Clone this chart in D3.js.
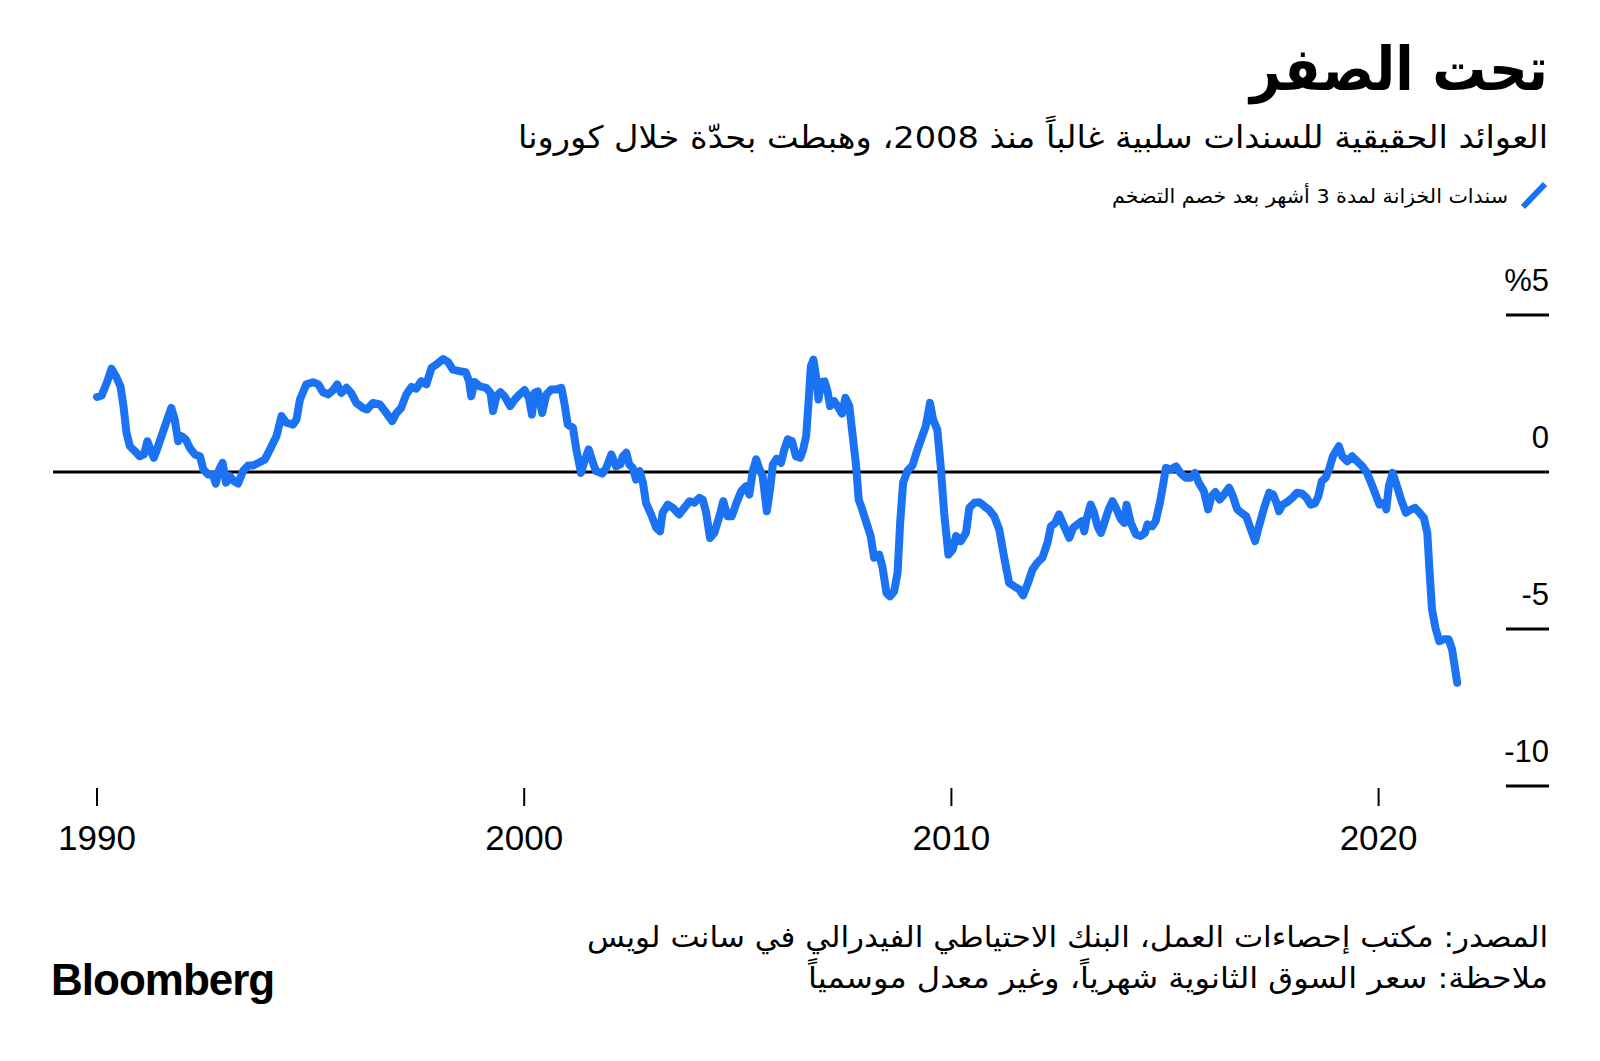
<!DOCTYPE html>
<html>
<head>
<meta charset="utf-8">
<script src="https://cdn.jsdelivr.net/npm/d3@7"></script>
<style>
  body { margin: 0; background: #fff; }
  .ar { font-family: "DejaVu Sans", sans-serif; }
  .num { font-family: "Liberation Sans", Arial, sans-serif; }
</style>
</head>
<body>
<svg id="chart" width="1600" height="1061"></svg>
<script>
// Texts
var title = "تحت الصفر";
var subtitle = "العوائد الحقيقية للسندات سلبية غالباً منذ 2008، وهبطت بحدّة خلال كورونا";
var legendLabel = "سندات الخزانة لمدة 3 أشهر بعد خصم التضخم";
var sourceNote = "المصدر: مكتب إحصاءات العمل، البنك الاحتياطي الفيدرالي في سانت لويس";
var footNote = "ملاحظة: سعر السوق الثانوية شهرياً، وغير معدل موسمياً";

// Axis ticks
var xTicks = [1990, 2000, 2010, 2020];
var yTicks = [5, 0, -5, -10];
var yTickLabels = ["%5", "0", "-5", "-10"];

var years = [
  1990.00, 1990.11, 1990.23, 1990.34, 1990.46, 1990.55, 1990.62, 1990.69, 1990.77, 1990.89,
  1991.00, 1991.10, 1991.18, 1991.25, 1991.33, 1991.43, 1991.59, 1991.74, 1991.82, 1991.90,
  1991.98, 1992.08, 1992.17, 1992.29, 1992.41, 1992.49, 1992.60, 1992.71, 1992.78, 1992.86,
  1992.94, 1993.02, 1993.11, 1993.20, 1993.30, 1993.42, 1993.54, 1993.66, 1993.81, 1993.93,
  1994.05, 1994.20, 1994.32, 1994.43, 1994.59, 1994.67, 1994.75, 1994.90, 1995.06, 1995.18,
  1995.29, 1995.41, 1995.53, 1995.62, 1995.72, 1995.84, 1995.95, 1996.07, 1996.23, 1996.32,
  1996.46, 1996.62, 1996.74, 1996.91, 1997.01, 1997.12, 1997.24, 1997.36, 1997.47, 1997.59,
  1997.71, 1997.83, 1997.94, 1998.10, 1998.22, 1998.33, 1998.49, 1998.63, 1998.71, 1998.76,
  1998.84, 1998.96, 1999.11, 1999.21, 1999.27, 1999.35, 1999.44, 1999.54, 1999.67, 1999.78,
  1999.89, 2000.01, 2000.11, 2000.18, 2000.24, 2000.32, 2000.42, 2000.52, 2000.63, 2000.75,
  2000.87, 2000.94, 2001.02, 2001.14, 2001.22, 2001.33, 2001.41, 2001.51, 2001.61, 2001.68,
  2001.83, 2001.92, 2002.04, 2002.15, 2002.25, 2002.31, 2002.39, 2002.46, 2002.54, 2002.62,
  2002.70, 2002.78, 2002.85, 2002.97, 2003.09, 2003.18, 2003.24, 2003.36, 2003.48, 2003.63,
  2003.75, 2003.87, 2003.98, 2004.10, 2004.18, 2004.26, 2004.35, 2004.45, 2004.57, 2004.66,
  2004.76, 2004.86, 2004.97, 2005.08, 2005.19, 2005.27, 2005.35, 2005.43, 2005.51, 2005.58,
  2005.68, 2005.76, 2005.82, 2005.91, 2006.01, 2006.09, 2006.17, 2006.27, 2006.36, 2006.46,
  2006.53, 2006.60, 2006.66, 2006.71, 2006.77, 2006.83, 2006.89, 2006.95, 2007.03, 2007.10,
  2007.16, 2007.26, 2007.36, 2007.44, 2007.52, 2007.61, 2007.69, 2007.77, 2007.83, 2007.90,
  2008.00, 2008.11, 2008.19, 2008.31, 2008.39, 2008.48, 2008.56, 2008.66, 2008.74, 2008.80,
  2008.87, 2008.97, 2009.09, 2009.18, 2009.29, 2009.40, 2009.50, 2009.57, 2009.67, 2009.75,
  2009.83, 2009.93, 2010.03, 2010.11, 2010.22, 2010.34, 2010.42, 2010.54, 2010.65, 2010.77,
  2010.88, 2011.00, 2011.12, 2011.23, 2011.35, 2011.47, 2011.59, 2011.68, 2011.78, 2011.90,
  2012.01, 2012.13, 2012.25, 2012.33, 2012.43, 2012.52, 2012.64, 2012.76, 2012.85, 2012.95,
  2013.05, 2013.11, 2013.16, 2013.26, 2013.34, 2013.42, 2013.50, 2013.58, 2013.68, 2013.77,
  2013.85, 2013.97, 2014.05, 2014.10, 2014.20, 2014.32, 2014.43, 2014.53, 2014.59, 2014.70,
  2014.78, 2014.88, 2014.95, 2015.02, 2015.14, 2015.26, 2015.36, 2015.48, 2015.60, 2015.70,
  2015.79, 2015.91, 2016.01, 2016.09, 2016.18, 2016.28, 2016.38, 2016.50, 2016.59, 2016.69,
  2016.81, 2016.90, 2017.01, 2017.11, 2017.20, 2017.32, 2017.44, 2017.53, 2017.61, 2017.67,
  2017.75, 2017.86, 2017.98, 2018.09, 2018.21, 2018.31, 2018.41, 2018.51, 2018.59, 2018.67,
  2018.76, 2018.84, 2018.93, 2019.07, 2019.15, 2019.27, 2019.38, 2019.50, 2019.62, 2019.73,
  2019.84, 2019.93, 2020.02, 2020.13, 2020.18, 2020.24, 2020.33, 2020.43, 2020.54, 2020.64,
  2020.72, 2020.85, 2020.96, 2021.06, 2021.14, 2021.19, 2021.25, 2021.33, 2021.42, 2021.52,
  2021.64, 2021.72, 2021.78, 2021.84
];
var realYield = [
  2.39, 2.44, 2.84, 3.29, 3.00, 2.73, 2.10, 1.25, 0.82, 0.66,
  0.50, 0.56, 0.98, 0.72, 0.45, 0.82, 1.46, 2.04, 1.67, 0.98,
  1.14, 1.03, 0.77, 0.56, 0.50, 0.08, -0.08, -0.08, -0.37, 0.08,
  0.29, -0.34, -0.13, -0.29, -0.37, 0.03, 0.21, 0.21, 0.31, 0.40,
  0.72, 1.14, 1.78, 1.57, 1.51, 1.67, 2.31, 2.79, 2.86, 2.79,
  2.54, 2.47, 2.61, 2.79, 2.52, 2.68, 2.52, 2.20, 2.04, 1.99,
  2.20, 2.15, 1.94, 1.62, 1.88, 2.04, 2.47, 2.71, 2.65, 2.89,
  2.79, 3.32, 3.42, 3.60, 3.50, 3.26, 3.21, 3.18, 2.89, 2.41,
  2.86, 2.73, 2.68, 2.52, 1.94, 2.41, 2.54, 2.41, 2.10, 2.31,
  2.47, 2.61, 2.36, 1.83, 2.52, 2.57, 1.88, 2.47, 2.63, 2.63,
  2.68, 2.20, 1.51, 1.41, 0.72, -0.03, 0.34, 0.72, 0.29, 0.03,
  -0.05, 0.13, 0.56, 0.18, 0.24, 0.50, 0.61, 0.24, 0.13, -0.24,
  0.03, -0.34, -0.98, -1.35, -1.78, -1.89, -1.30, -1.04, -1.14, -1.35,
  -1.14, -0.93, -0.98, -0.82, -0.88, -1.30, -2.10, -1.94, -1.41, -0.93,
  -1.41, -1.41, -0.98, -0.61, -0.45, -0.72, 0.03, 0.40, 0.08, -0.13,
  -1.25, -0.50, 0.24, 0.42, 0.29, 0.72, 1.04, 0.98, 0.50, 0.45,
  0.72, 1.14, 2.31, 3.37, 3.58, 3.05, 2.31, 2.86, 2.89, 2.57,
  2.10, 2.25, 2.04, 1.86, 2.36, 2.10, 1.14, 0.18, -0.88, -1.14,
  -1.57, -2.04, -2.73, -2.63, -3.05, -3.85, -3.96, -3.80, -3.21, -1.62,
  -0.34, 0.03, 0.21, 0.61, 1.04, 1.46, 2.20, 1.67, 1.35, 0.18,
  -1.30, -2.63, -2.47, -2.04, -2.20, -1.94, -1.14, -0.98, -0.96, -1.09,
  -1.20, -1.41, -1.83, -2.68, -3.53, -3.64, -3.74, -3.93, -3.58, -3.10,
  -2.89, -2.73, -2.25, -1.73, -1.62, -1.35, -1.73, -2.10, -1.78, -1.67,
  -1.57, -1.89, -1.51, -1.04, -1.30, -1.73, -1.94, -1.62, -1.19, -0.93,
  -1.14, -1.51, -1.62, -1.04, -1.62, -1.99, -2.04, -1.94, -1.67, -1.73,
  -1.57, -0.98, -0.45, 0.13, 0.08, 0.18, -0.03, -0.18, -0.18, -0.03,
  -0.34, -0.61, -1.19, -0.77, -0.64, -0.88, -0.72, -0.50, -0.77, -1.19,
  -1.32, -1.41, -1.83, -2.20, -1.73, -1.14, -0.66, -0.72, -0.98, -1.25,
  -1.04, -0.96, -0.82, -0.66, -0.69, -0.82, -1.04, -1.00, -0.77, -0.29,
  -0.18, 0.08, 0.50, 0.82, 0.50, 0.34, 0.50, 0.34, 0.18, -0.03,
  -0.40, -0.72, -1.04, -0.98, -1.19, -0.45, -0.03, -0.45, -0.93, -1.30,
  -1.22, -1.14, -1.30, -1.46, -1.94, -3.10, -4.38, -4.96, -5.39, -5.33,
  -5.33, -5.65, -6.18, -6.71
];

var svg = d3.select("#chart");
var blue = "#1b72f2";

// Scales
var x = d3.scaleLinear().domain([1990, 2020]).range([97, 1378.6]);
var y = d3.scaleLinear().domain([-10, 5]).range([786, 315]);

var plotLeft = 53, plotRight = 1549;

// helper for right-aligned Arabic lines, stretched to the measured width
function arText(str, xr, yb, size, width, weight) {
    return svg.append("text").attr("class", "ar")
        .attr("x", xr).attr("y", yb)
        .attr("text-anchor", "end")
        .attr("textLength", width)
        .attr("lengthAdjust", "spacingAndGlyphs")
        .style("font-size", size + "px")
        .style("font-weight", weight || "normal")
        .text(str);
}

// Title block
arText(title, 1548, 90, 60, 298, "bold");
arText(subtitle, 1548, 148, 31, 1030);

// Legend
svg.append("line")
    .attr("x1", 1523).attr("y1", 207)
    .attr("x2", 1545).attr("y2", 184)
    .attr("stroke", blue).attr("stroke-width", 6);
arText(legendLabel, 1508, 203, 20, 396);

// Y axis: short tick marks at the right with labels above
var yAxis = svg.append("g");
yAxis.selectAll("line.ytick")
    .data(yTicks.filter(function (d) { return d !== 0; }))
    .enter().append("line")
    .attr("class", "ytick")
    .attr("x1", 1506).attr("x2", plotRight)
    .attr("y1", function (d) { return y(d); })
    .attr("y2", function (d) { return y(d); })
    .attr("stroke", "#000").attr("stroke-width", 3);
yAxis.selectAll("text")
    .data(yTicks)
    .enter().append("text")
    .attr("class", "num")
    .attr("x", plotRight)
    .attr("y", function (d) { return y(d) - 24; })
    .attr("text-anchor", "end")
    .style("font-size", "31px")
    .text(function (d, i) { return yTickLabels[i]; });

// Zero line
svg.append("line")
    .attr("x1", plotLeft).attr("x2", plotRight)
    .attr("y1", y(0)).attr("y2", y(0))
    .attr("stroke", "#000").attr("stroke-width", 3);

// X axis
var xAxis = svg.append("g");
xAxis.selectAll("line")
    .data(xTicks)
    .enter().append("line")
    .attr("x1", function (d) { return x(d); })
    .attr("x2", function (d) { return x(d); })
    .attr("y1", 788).attr("y2", 806)
    .attr("stroke", "#000").attr("stroke-width", 2);
xAxis.selectAll("text")
    .data(xTicks)
    .enter().append("text")
    .attr("class", "num")
    .attr("x", function (d) { return x(d); })
    .attr("y", 850)
    .attr("text-anchor", "middle")
    .style("font-size", "35px")
    .text(function (d) { return d; });

// The line
var line = d3.line()
    .x(function (d, i) { return x(years[i]); })
    .y(function (d) { return y(d); });

svg.append("path")
    .datum(realYield)
    .attr("fill", "none")
    .attr("stroke", blue)
    .attr("stroke-width", 8)
    .attr("stroke-linejoin", "round")
    .attr("stroke-linecap", "round")
    .attr("d", line);

// Footer
arText(sourceNote, 1548, 947, 29, 961);
arText(footNote, 1548, 988, 29, 740);

svg.append("text").attr("class", "num")
    .attr("x", 51).attr("y", 995)
    .style("font-size", "44px").style("font-weight", "bold")
    .style("letter-spacing", "-1px")
    .text("Bloomberg");
</script>
</body>
</html>
